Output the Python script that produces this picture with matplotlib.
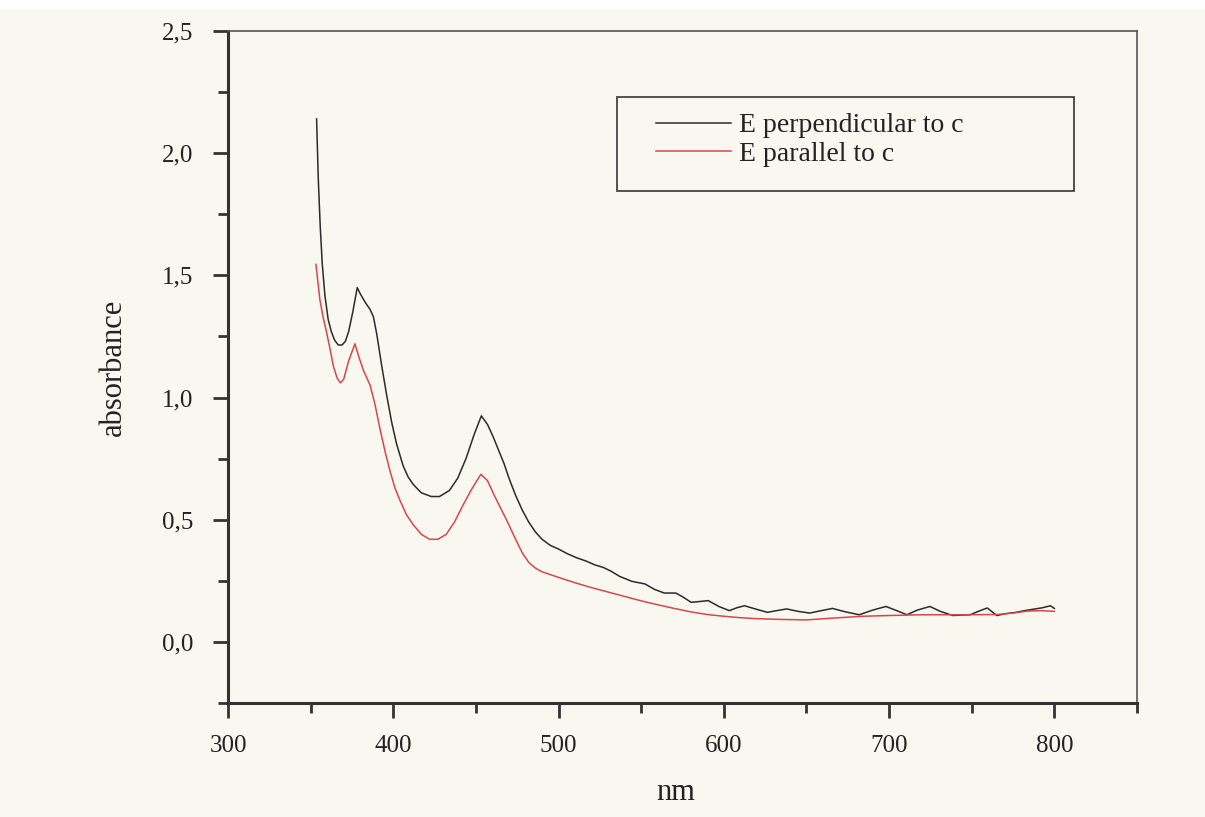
import matplotlib
matplotlib.use("Agg")
import matplotlib.pyplot as plt
from matplotlib.ticker import MultipleLocator, FuncFormatter
from matplotlib.patches import Rectangle
from matplotlib.lines import Line2D

# ---- data ----
perp_nm = [353.6, 354.6, 355.8, 357.0, 358.6, 360.6, 362.5, 364.5, 366.7, 369, 371, 373,
           375.5, 378.2, 380, 383, 386, 388, 390, 393, 396, 399, 402, 406, 409, 412,
           417, 423, 428, 434, 439, 444, 449, 453.3, 457, 460.4, 464, 467, 470, 474,
           478, 482, 486, 490, 495, 500, 505, 510.7, 517, 522, 527, 531.6, 537, 544.3,
           552.4, 558, 564, 570.9, 575, 580.2, 585, 590.6, 597, 603.3, 608, 612.5, 619,
           626.4, 632, 638, 645, 651.9, 659, 665.8, 673, 681.9, 690, 698.1, 705, 710.8,
           717, 724.7, 731, 738.6, 744, 749, 754, 759.4, 762, 765.2, 770, 776.8, 782,
           788.4, 793, 797.6, 800]
perp_abs = [2.14, 1.90, 1.70, 1.55, 1.42, 1.32, 1.27, 1.235, 1.215, 1.215, 1.23, 1.27,
            1.35, 1.45, 1.425, 1.39, 1.36, 1.33, 1.26, 1.13, 1.01, 0.90, 0.81, 0.72, 0.675, 0.645,
            0.61, 0.595, 0.595, 0.62, 0.67, 0.75, 0.85, 0.925, 0.89, 0.84, 0.78, 0.73, 0.67, 0.60,
            0.54, 0.49, 0.45, 0.42, 0.395, 0.38, 0.362, 0.345, 0.33, 0.315, 0.305, 0.29, 0.268, 0.248,
            0.237, 0.215, 0.20, 0.20, 0.185, 0.162, 0.165, 0.169, 0.145, 0.128, 0.14, 0.148, 0.135,
            0.121, 0.128, 0.135, 0.125, 0.118, 0.128, 0.137, 0.124, 0.111, 0.13, 0.145, 0.127, 0.111,
            0.13, 0.145, 0.125, 0.108, 0.11, 0.111, 0.125, 0.139, 0.125, 0.108, 0.115, 0.121, 0.128,
            0.135, 0.14, 0.148, 0.137]

par_nm = [353.2, 355.6, 357.5, 359.7, 361.7, 363.7, 366, 368, 370, 373, 376.8, 379,
          382, 386, 389, 392, 395, 398, 401, 404, 408, 412, 417, 422, 427, 432, 437,
          442, 447, 453, 457, 460.4, 464, 468.5, 474, 478, 482, 486, 490, 500, 510,
          520, 530, 540, 550, 560, 570, 580, 590, 600, 610, 620, 635, 650, 665,
          684, 700, 719, 742, 765, 775, 783.7, 792, 800]
par_abs = [1.545, 1.40, 1.33, 1.265, 1.20, 1.13, 1.08, 1.06, 1.075, 1.15, 1.22, 1.17,
           1.11, 1.05, 0.97, 0.87, 0.78, 0.70, 0.63, 0.58, 0.52, 0.48, 0.44, 0.42, 0.42, 0.44, 0.49,
           0.557, 0.62, 0.686, 0.66, 0.61, 0.56, 0.50, 0.42, 0.365, 0.325, 0.302, 0.287, 0.264, 0.242,
           0.222, 0.204, 0.186, 0.168, 0.152, 0.137, 0.123, 0.112, 0.105, 0.099, 0.095, 0.092, 0.09, 0.097,
           0.105, 0.108, 0.111, 0.111, 0.112, 0.118, 0.126, 0.128, 0.125]

labels = ["E perpendicular to c", "E parallel to c"]
x_label = "nm"
y_label = "absorbance"

# ---- style ----
W, H = 1205, 817
bg = "#f8f8f0"
ink = "#333333"
plt.rcParams["font.family"] = ["Liberation Serif", "DejaVu Serif"]

fig = plt.figure(figsize=(W / 100, H / 100), dpi=100, facecolor=bg)
fig.patches.append(Rectangle((0, (H - 9) / H), 1, 9 / H, transform=fig.transFigure,
                             facecolor="white", edgecolor="none", zorder=0))

ax = fig.add_axes([228 / W, 1 - 703 / H, (1137 - 228) / W, (703 - 31) / H])
ax.set_facecolor(bg)

ax.plot(perp_nm, perp_abs, color="#2b2b2b", lw=1.1)
ax.plot(par_nm, par_abs, color="#d9474a", lw=1.1)

ax.set_xlim(300, 850)
ax.set_ylim(-0.25, 2.5)

ax.xaxis.set_major_locator(MultipleLocator(100))
ax.xaxis.set_minor_locator(MultipleLocator(50))
ax.yaxis.set_major_locator(MultipleLocator(0.5))
ax.yaxis.set_minor_locator(MultipleLocator(0.25))
ax.yaxis.set_major_formatter(FuncFormatter(lambda v, p: f"{v:.1f}".replace(".", ",")))
ax.xaxis.set_major_formatter(FuncFormatter(lambda v, p: "" if v > 800 else f"{v:.0f}"))

ax.tick_params(axis="both", which="major", direction="out", length=11, width=2.0,
               color=ink, labelsize=18, labelcolor="#222222")
ax.tick_params(axis="both", which="minor", direction="out", length=7, width=2.0, color=ink)
ax.tick_params(axis="y", which="major", pad=14)
ax.tick_params(axis="x", which="major", pad=12)

for s in ["left", "bottom"]:
    ax.spines[s].set_linewidth(2.2)
    ax.spines[s].set_color(ink)
for s in ["top", "right"]:
    ax.spines[s].set_linewidth(1.2)
    ax.spines[s].set_color("#555555")

fig.text(113 / W, 1 - 367 / H, y_label, rotation=90, ha="center", va="center",
         fontsize=22, color="#222222")
fig.text(676 / W, 1 - 793 / H, x_label, ha="center", va="center",
         fontsize=22, color="#222222")

fig.patches.append(Rectangle((617 / W, 1 - 191 / H), (1074 - 617) / W, (191 - 97) / H,
                             transform=fig.transFigure, facecolor=bg,
                             edgecolor="#444444", lw=1.3, zorder=3))
handles = [Line2D([], [], color="#2b2b2b", lw=1.1), Line2D([], [], color="#d9474a", lw=1.1)]
leg = fig.legend(handles, labels, loc="upper left",
                 bbox_to_anchor=(656 / W, 1 - 113 / H), frameon=False,
                 fontsize=20, handlelength=2.7, handletextpad=0.3,
                 labelspacing=0.12, borderpad=0.0, borderaxespad=0.0)
leg.set_zorder(4)
for t in leg.get_texts():
    t.set_color("#222222")

fig.savefig("out.png", dpi=100, facecolor=bg)
